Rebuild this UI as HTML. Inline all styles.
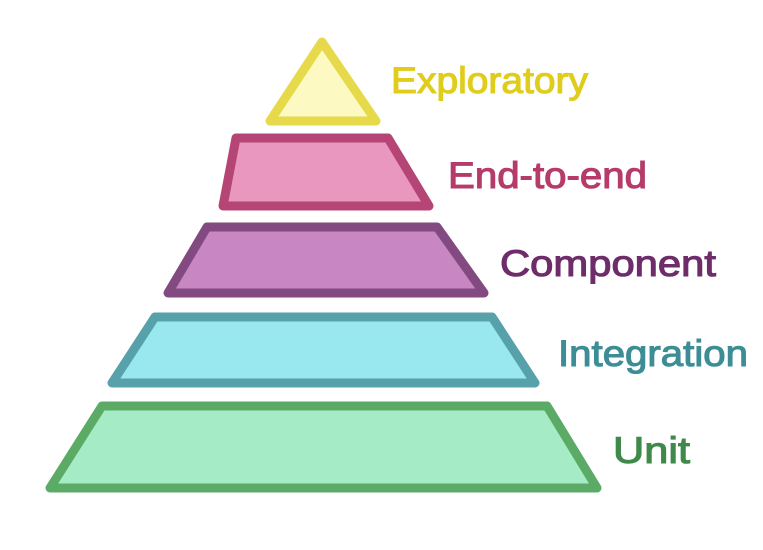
<!DOCTYPE html>
<html><head><style>html,body{margin:0;padding:0;background:#fff}svg{display:block}</style></head><body>
<svg width="763" height="550" viewBox="0 0 763 550" xmlns="http://www.w3.org/2000/svg">
<g stroke-width="9" stroke-linejoin="round">
<polygon points="322,42 376,121 270,121" fill="#fcf9c2" stroke="#e6d94a"/>
<polygon points="236,138 388,138 429,206 223,206" fill="#ea97c0" stroke="#b54574"/>
<polygon points="207,227 437,227 484,293 168,293" fill="#c887c3" stroke="#824a80"/>
<polygon points="155,317 492,317 535,383 112,383" fill="#9ae8ef" stroke="#57a1ab"/>
<polygon points="102,406 547,406 597,488 50,488" fill="#a4ebc6" stroke="#5bab67"/>
</g>
<g font-family="Liberation Sans, sans-serif" font-weight="normal" font-size="37" stroke-width="1.1">
<text x="391" y="93" fill="#e0cc1a" stroke="#e0cc1a" textLength="197" lengthAdjust="spacingAndGlyphs">Exploratory</text>
<text x="448" y="188" fill="#b53b6b" stroke="#b53b6b" textLength="199" lengthAdjust="spacingAndGlyphs">End-to-end</text>
<text x="500" y="276" fill="#6e2c6a" stroke="#6e2c6a" textLength="216" lengthAdjust="spacingAndGlyphs">Component</text>
<text x="558" y="366" fill="#3d8d96" stroke="#3d8d96" textLength="190" lengthAdjust="spacingAndGlyphs">Integration</text>
<text x="613" y="463" fill="#3f8a4a" stroke="#3f8a4a" textLength="77" lengthAdjust="spacingAndGlyphs">Unit</text>
</g>
</svg>
</body></html>
